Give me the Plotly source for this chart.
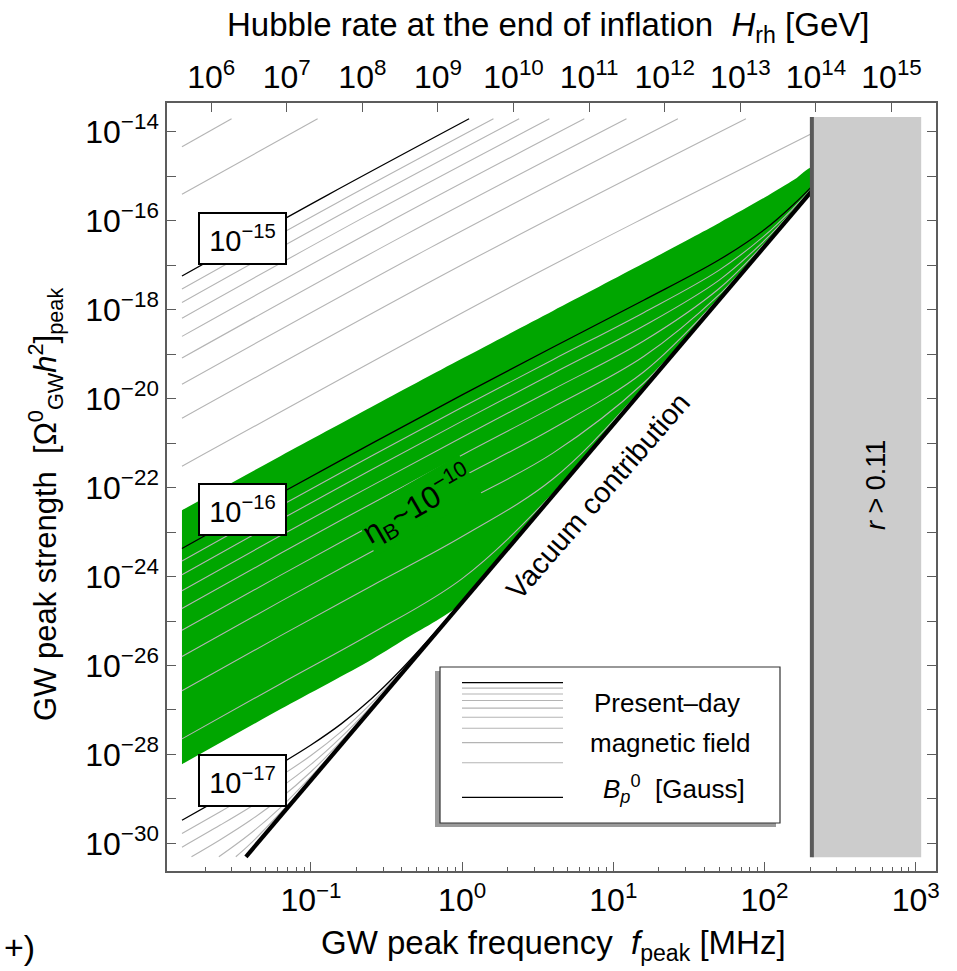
import numpy as np
import plotly.graph_objects as go

W, H = 957, 971
ML, MR, MT, MB = 167, 21, 103, 100          # plot frame: x 167..936, y 103..871

# ---------------- data (log10 values) ----------------
# x: log10(f_peak / MHz), y: log10([Omega_GW h^2]_peak)
logf_grid = [-1.853, -1.2, -0.6, 0.0, 0.6, 1.2, 1.7, 2.0, 2.2, 2.313]

# green band  (eta_B ~ 1e-10)
band_upper = [-22.51, -21.29, -20.19, -19.10, -18.03, -16.96, -16.05, -15.48, -15.07, -14.80]
band_lower_f = [2.313, 2.2, 2.0, 1.7, 1.2, 0.6, 0.0, -0.15, -0.35, -0.6, -1.2, -1.853]
band_lower = [-15.33, -15.782, -16.582, -17.782, -19.782, -22.182, -24.582, -24.95, -25.35, -25.87, -26.98, -28.22]

# vacuum contribution
vac_f = [-1.43, 2.313]
vac_omega = [-30.30, -15.33]

# r > 0.11 excluded region
rexcl_f = [2.313, 3.036]
rexcl_omega = [-30.31, -13.67]

# present-day magnetic field contours  B_p^0 [Gauss]
# upper family (3e-15 ... 2e-16)
upperB_labels = ["3e-15", "2e-15", "1e-15", "9e-16", "8e-16", "7e-16", "6e-16", "5e-16", "4e-16", "3e-16", "2e-16"]
upperB_f = [
    [-1.853, -1.525],
    [-1.853, -0.956],
    [-1.853, -0.903, 0.046],
    [-1.853, -0.823, 0.207],
    [-1.853, -0.738, 0.377],
    [-1.853, -0.638, 0.577],
    [-1.853, -0.523, 0.808],
    [-1.853, -0.383, 1.087],
    [-1.853, -0.213, 1.427],
    [-1.853, 0.012, 1.877],
    [-1.853, 0.230, 1.272, 2.313],
]
upperB_omega = [
    [-14.337, -13.71],
    [-15.408, -13.71],
    [-17.245, -15.448, -13.71],
    [-17.537, -15.591, -13.71],
    [-17.839, -15.736, -13.71],
    [-18.192, -15.904, -13.71],
    [-18.601, -16.101, -13.71],
    [-19.087, -16.331, -13.71],
    [-19.678, -16.612, -13.71],
    [-20.443, -16.969, -13.71],
    [-21.520, -17.654, -15.822, -14.04],
]

# middle family on logf_grid (1e-16 ... 2e-17)
midB_labels = ["1e-16", "9e-17", "8e-17", "7e-17", "6e-17", "5e-17", "4e-17", "3e-17", "2e-17"]
midB_omega = [
    [-23.37, -22.129, -21.012, -19.917, -18.846, -17.790, -16.880, -16.200, -15.610, -15.230],
    [-23.65, -22.409, -21.292, -20.197, -19.125, -18.068, -17.112, -16.337, -15.685, -15.275],
    [-23.96, -22.719, -21.602, -20.507, -19.435, -18.369, -17.336, -16.445, -15.731, -15.302],
    [-24.32, -23.079, -21.962, -20.867, -19.794, -18.707, -17.526, -16.518, -15.758, -15.317],
    [-24.72, -23.479, -22.362, -21.267, -20.192, -19.055, -17.664, -16.555, -15.773, -15.325],
    [-25.21, -23.969, -22.852, -21.756, -20.672, -19.402, -17.740, -16.573, -15.779, -15.328],
    [-25.80, -24.559, -23.442, -22.345, -21.226, -19.649, -17.771, -16.580, -15.781, -15.329],
    [-26.57, -25.329, -24.211, -23.102, -21.808, -19.756, -17.780, -16.582, -15.782, -15.330],
    [-27.65, -26.409, -25.283, -24.047, -22.135, -19.780, -17.782, -16.582, -15.782, -15.330],
]

# lower family (1e-17 ... 5e-18)
lowB_labels = ["1e-17", "9e-18", "8e-18", "7e-18", "6e-18", "5e-18"]
lowB_f = [
    [-1.853, -1.6, -1.4, -1.2, -1.0, -0.8, -0.6, -0.4, 0.0, 0.6],
    [-1.853, -1.6, -1.4, -1.2, -1.0, -0.8, -0.6, -0.4],
    [-1.853, -1.6, -1.4, -1.2, -1.0, -0.8, -0.6, -0.4],
    [-1.790, -1.6, -1.4, -1.2, -1.0, -0.8, -0.6, -0.4],
    [-1.609, -1.4, -1.2, -1.0, -0.8, -0.6, -0.4],
    [-1.497, -1.4, -1.2, -1.0, -0.8, -0.6, -0.4],
]
lowB_omega = [
    [-29.479, -28.992, -28.604, -28.209, -27.788, -27.313, -26.746, -26.079, -24.567, -22.181],
    [-29.777, -29.287, -28.892, -28.481, -28.023, -27.486, -26.846, -26.127],
    [-30.085, -29.588, -29.180, -28.738, -28.224, -27.612, -26.911, -26.154],
    [-30.300, -29.917, -29.480, -28.980, -28.389, -27.698, -26.948, -26.169],
    [-30.300, -29.777, -29.188, -28.496, -27.747, -26.969, -26.177],
    [-30.300, -30.004, -29.305, -28.552, -27.770, -26.978, -26.180],
]
black_labels = {"1e-15", "1e-16", "1e-17"}

# axes
x_ticks = [0.1, 1, 10, 100, 1000]
x_ticktext = ["10<sup>\u22121</sup>", "10<sup>0</sup>", "10<sup>1</sup>", "10<sup>2</sup>", "10<sup>3</sup>"]
y_exponents = list(range(-30, -13))
H_exponents = list(range(6, 16))
logH_ref, logf_ref = 14.0, 2.34      # H_rh = 1e14 GeV sits at f = 10^2.34 MHz, f ~ H^(1/2)

# ---------------- styling ----------------
FONT = "Liberation Sans, Arial, sans-serif"
FRAME = "#5c5c5c"
GRAY = "#b4b4b4"
GREEN = "#00a600"
xr = [-1.952, 3.134]
yr = [-30.62, -13.355]

def p10(v):
    return np.power(10.0, np.asarray(v, dtype=float))

def px(x):
    return (x - ML) / (W - ML - MR)

def py(y):
    return (H - MB - y) / (H - MT - MB)

fig = go.Figure()

# green band
fig.add_trace(go.Scatter(
    x=p10(logf_grid + band_lower_f), y=p10(band_upper + band_lower),
    fill="toself", fillcolor=GREEN, mode="lines",
    line=dict(width=0, color=GREEN, shape="spline", smoothing=0.8),
    hoverinfo="skip", showlegend=False))

def curve(fx, fy, black):
    fig.add_trace(go.Scatter(
        x=p10(fx), y=p10(fy), mode="lines",
        line=dict(color="black" if black else GRAY, width=1.3 if black else 1.1, shape="spline"),
        hoverinfo="skip", showlegend=False))

for lab, fx, fy in zip(upperB_labels, upperB_f, upperB_omega):
    curve(fx, fy, lab in black_labels)
for lab, fy in zip(midB_labels, midB_omega):
    curve(logf_grid, fy, lab in black_labels)
for lab, fx, fy in zip(lowB_labels, lowB_f, lowB_omega):
    curve(fx, fy, lab in black_labels)

# vacuum line
fig.add_trace(go.Scatter(x=p10(vac_f), y=p10(vac_omega), mode="lines",
                         line=dict(color="black", width=4.2), hoverinfo="skip", showlegend=False))

# r > 0.11 region
fig.add_trace(go.Scatter(
    x=p10([rexcl_f[0], rexcl_f[1], rexcl_f[1], rexcl_f[0], rexcl_f[0]]),
    y=p10([rexcl_omega[0], rexcl_omega[0], rexcl_omega[1], rexcl_omega[1], rexcl_omega[0]]),
    fill="toself", fillcolor="#cccccc", mode="lines", line=dict(width=0, color="#cccccc"),
    hoverinfo="skip", showlegend=False))
fig.add_trace(go.Scatter(x=p10([rexcl_f[0], rexcl_f[0]]), y=p10(rexcl_omega), mode="lines",
                         line=dict(color="#5a5a5a", width=4), hoverinfo="skip", showlegend=False))

# invisible trace for the top (Hubble-rate) axis
fig.add_trace(go.Scatter(x=[10.0 ** H_exponents[0], 10.0 ** H_exponents[-1]], y=[1e-20, 1e-20],
                         xaxis="x2", yaxis="y", mode="markers", marker=dict(opacity=0),
                         hoverinfo="skip", showlegend=False))

tickfont = dict(family=FONT, size=32, color="black")
minor_x = [m * 10.0 ** k for k in range(-2, 3) for m in range(2, 10)]
fig.update_layout(
    width=W, height=H, margin=dict(l=ML, r=MR, t=MT, b=MB),
    paper_bgcolor="white", plot_bgcolor="white", showlegend=False,
    font=dict(family=FONT, color="black"),
    xaxis=dict(type="log", range=xr, showgrid=False, zeroline=False, showline=True,
               linecolor=FRAME, linewidth=1.5, ticks="inside", ticklen=9, tickwidth=1.2,
               tickcolor=FRAME, tickvals=x_ticks, ticktext=x_ticktext, tickfont=tickfont,
               minor=dict(ticks="inside", ticklen=4, tickwidth=1, tickcolor=FRAME, tickvals=minor_x),
               mirror=False),
    xaxis2=dict(type="log", overlaying="x", side="top", anchor="y",
                range=[logH_ref + 2 * (xr[0] - logf_ref), logH_ref + 2 * (xr[1] - logf_ref)],
                showgrid=False, zeroline=False, showline=True, linecolor=FRAME, linewidth=1.5,
                ticks="inside", ticklen=9, tickwidth=1.2, tickcolor=FRAME,
                tickvals=[10.0 ** e for e in H_exponents],
                ticktext=["10<sup>%d</sup>" % e for e in H_exponents], tickfont=tickfont),
    yaxis=dict(type="log", range=yr, showgrid=False, zeroline=False, showline=True,
               linecolor=FRAME, linewidth=1.5, ticks="inside", ticklen=9, tickwidth=1.2,
               tickcolor=FRAME, mirror="ticks",
               tickvals=[10.0 ** e for e in y_exponents],
               ticktext=[("10<sup>\u2212%d</sup>" % (-e)) if e % 2 == 0 else "" for e in y_exponents],
               tickfont=tickfont),
)

ann = []
def text(x, y, s, size, angle=0, **kw):
    d = dict(x=px(x), y=py(y), xref="paper", yref="paper", text=s, showarrow=False,
             textangle=angle, font=dict(family=FONT, size=size, color="black"),
             xanchor="center", yanchor="middle")
    d.update(kw)
    ann.append(d)

# axis titles
text(548, 27, "Hubble rate at the end of inflation  <i>H</i><sub>rh</sub> [GeV]", 33)
text(553, 945, "GW peak frequency  <i>f</i><sub>peak</sub> [MHz]", 33)
text(45, 505, "GW peak strength  [\u03a9<sup>0</sup><sub>GW</sub><i>h</i><sup>2</sup>]<sub>peak</sub>", 31, -90)
text(19, 947, "+)", 34)

# contour labels
for cy, e in [(238, 15), (509.5, 16), (780.7, 17)]:
    text(242, cy, "10<sup>\u2212%d</sup>" % e, 29, bgcolor="white", bordercolor="black",
         borderwidth=2, borderpad=0, width=85, height=49)

text(417, 505, "\u03b7<sub>B</sub>~10<sup>\u221210</sup>", 31, -30, bgcolor=GREEN, borderpad=0)
text(598, 496, "Vacuum contribution", 29, -49)
text(876, 485, "<i>r</i> > 0.11", 27, -90)

# legend box
shapes = []
shapes.append(dict(type="rect", xref="paper", yref="paper", x0=px(435), x1=px(776), y0=py(827), y1=py(671),
                   fillcolor="#9a9a9a", line=dict(width=0), layer="above"))
shapes.append(dict(type="rect", xref="paper", yref="paper", x0=px(440), x1=px(780), y0=py(823), y1=py(667),
                   fillcolor="white", line=dict(color="#333333", width=1.2), layer="above"))
legend_line_y = [682.7, 688.1, 694.0, 700.5, 708.1, 717.2, 728.3, 742.6, 762.8, 797.3]
for i, ly in enumerate(legend_line_y):
    blk = i == 0 or i == len(legend_line_y) - 1
    shapes.append(dict(type="line", xref="paper", yref="paper", x0=px(462), x1=px(563), y0=py(ly), y1=py(ly),
                       line=dict(color="black" if blk else GRAY, width=1.3 if blk else 1.1), layer="above"))
text(667, 703, "Present\u2013day", 26)
text(670, 743, "magnetic field", 26)
text(674, 789, "<i>B</i><sub><i>p</i></sub><sup>0</sup>  [Gauss]", 26)

fig.update_layout(annotations=ann, shapes=shapes)
fig.write_html("out.html")
